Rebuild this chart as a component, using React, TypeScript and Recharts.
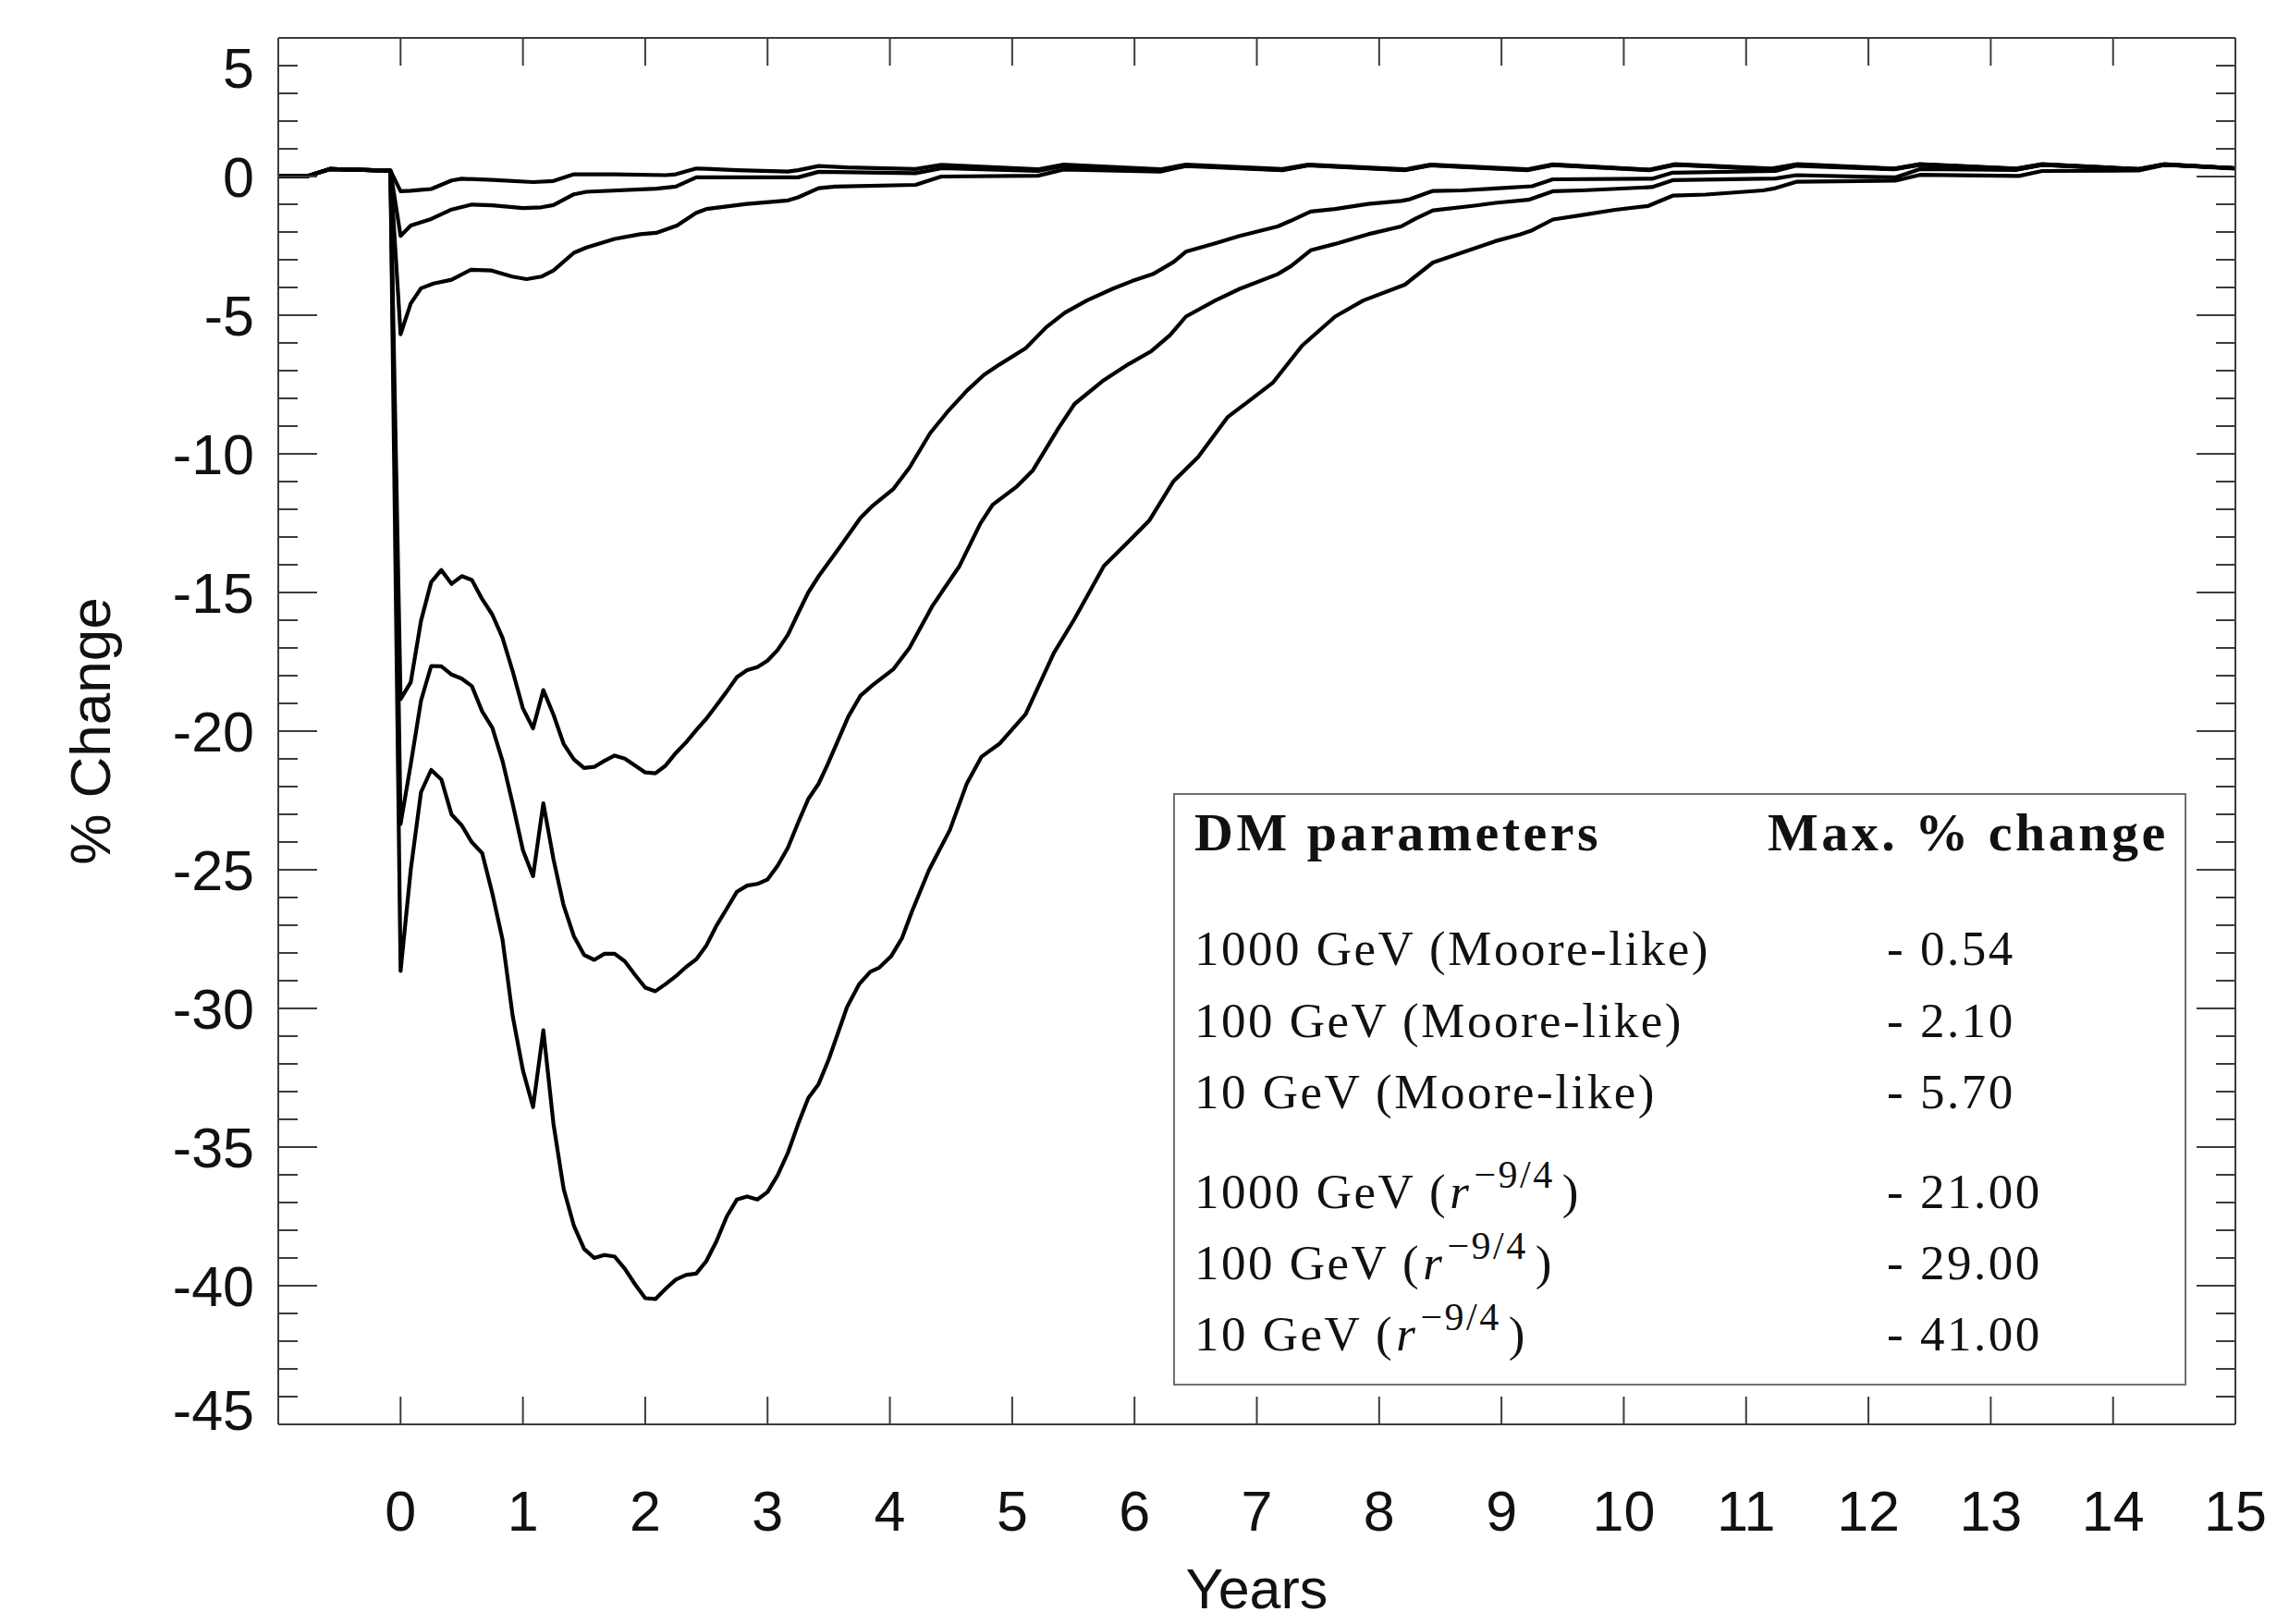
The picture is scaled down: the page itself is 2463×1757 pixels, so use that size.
import React from "react";
import { Line, LineChart, XAxis, YAxis } from "recharts";

// years before the outburst are common to every run
const PRE: [number, number][] = [
  [-1, 0.02], [-0.76, 0.02], [-0.58, 0.27], [-0.083, 0.21],
];

// 1000 GeV (Moore-like)
const SERIES_A: [number, number][] = [
  [0, -0.53], [0.083, -0.51], [0.167, -0.48], [0.25, -0.45], [0.417, -0.14], [0.5, -0.08],
  [0.75, -0.12], [1.083, -0.2], [1.25, -0.16], [1.417, 0.08], [1.75, 0.08], [2.167, 0.05],
  [2.25, 0.08], [2.417, 0.29], [2.5, 0.28], [2.75, 0.23], [3.167, 0.18], [3.25, 0.23],
  [3.417, 0.38], [3.65, 0.33], [4.21, 0.27], [4.42, 0.42], [5.21, 0.26], [5.42, 0.43],
  [6.21, 0.26], [6.42, 0.43], [7.21, 0.27], [7.42, 0.43], [8.21, 0.26], [8.42, 0.43],
  [9.21, 0.26], [9.42, 0.44], [10.21, 0.25], [10.42, 0.45], [11.21, 0.29], [11.42, 0.45],
  [12.21, 0.29], [12.42, 0.45], [13.21, 0.29], [13.42, 0.45], [14.21, 0.27], [14.42, 0.45],
  [15, 0.3],
];

// 100 GeV (Moore-like)
const SERIES_B: [number, number][] = [
  [0, -2.14], [0.083, -1.77], [0.25, -1.53], [0.417, -1.19], [0.583, -1.01], [0.75, -1.04],
  [1.0, -1.14], [1.15, -1.11], [1.25, -1.03], [1.417, -0.64], [1.52, -0.55], [2.09, -0.44],
  [2.25, -0.36], [2.417, -0.03], [3.25, -0.03], [3.417, 0.17], [4.21, 0.12], [4.42, 0.3],
  [5.21, 0.2], [5.42, 0.38], [6.21, 0.23], [6.42, 0.4], [7.21, 0.24], [7.42, 0.41],
  [8.21, 0.24], [8.42, 0.41], [9.21, 0.24], [9.42, 0.42], [10.21, 0.24], [10.42, 0.43],
  [11.21, 0.27], [11.42, 0.43], [12.21, 0.27], [12.42, 0.44], [13.21, 0.28], [13.42, 0.44],
  [14.21, 0.27], [14.42, 0.44], [15, 0.3],
];

// 10 GeV (Moore-like)
const SERIES_C: [number, number][] = [
  [0, -5.69], [0.083, -4.58], [0.167, -4.03], [0.27, -3.86], [0.417, -3.72], [0.575, -3.36],
  [0.744, -3.39], [0.913, -3.61], [1.03, -3.7], [1.15, -3.61], [1.25, -3.39], [1.417, -2.75],
  [1.52, -2.56], [1.75, -2.25], [1.96, -2.08], [2.09, -2.03], [2.26, -1.77], [2.417, -1.31],
  [2.5, -1.17], [2.83, -0.99], [3.167, -0.86], [3.25, -0.75], [3.417, -0.42], [3.55, -0.36],
  [4.21, -0.3], [4.42, 0.0], [5.21, 0.03], [5.42, 0.25], [6.21, 0.18], [6.42, 0.38],
  [7.21, 0.23], [7.42, 0.4], [8.21, 0.23], [8.42, 0.4], [9.21, 0.23], [9.42, 0.41],
  [10.21, 0.23], [10.42, 0.42], [11.21, 0.26], [11.42, 0.42], [12.21, 0.27], [12.42, 0.43],
  [13.21, 0.27], [13.42, 0.43], [14.21, 0.26], [14.42, 0.43], [15, 0.29],
];

// 1000 GeV (r^-9/4)
const SERIES_D: [number, number][] = [
  [0, -18.85], [0.083, -18.24], [0.167, -16.02], [0.25, -14.63], [0.333, -14.19], [0.417, -14.69],
  [0.5, -14.41], [0.583, -14.55], [0.667, -15.24], [0.75, -15.8], [0.833, -16.63], [0.917, -17.85],
  [1.0, -19.18], [1.083, -19.9], [1.167, -18.52], [1.25, -19.41], [1.333, -20.46], [1.417, -21.02],
  [1.5, -21.33], [1.583, -21.29], [1.667, -21.07], [1.75, -20.88], [1.833, -20.99], [1.917, -21.24],
  [2.0, -21.49], [2.083, -21.52], [2.167, -21.24], [2.25, -20.79], [2.333, -20.41], [2.417, -19.96],
  [2.5, -19.55], [2.583, -19.07], [2.667, -18.57], [2.75, -18.05], [2.833, -17.8], [2.917, -17.69],
  [3.0, -17.46], [3.083, -17.07], [3.167, -16.52], [3.25, -15.75], [3.333, -15.0], [3.42, -14.4],
  [3.59, -13.37], [3.76, -12.31], [3.86, -11.87], [4.03, -11.26], [4.16, -10.5], [4.33, -9.25],
  [4.47, -8.49], [4.63, -7.72], [4.77, -7.15], [4.9, -6.77], [5.11, -6.19], [5.28, -5.43],
  [5.43, -4.91], [5.61, -4.47], [5.82, -4.05], [5.98, -3.77], [6.15, -3.52], [6.32, -3.08],
  [6.42, -2.71], [6.66, -2.41], [6.86, -2.14], [7.17, -1.8], [7.27, -1.61], [7.44, -1.26],
  [7.64, -1.17], [7.91, -0.99], [8.18, -0.88], [8.25, -0.82], [8.44, -0.52], [8.68, -0.5],
  [8.95, -0.43], [9.25, -0.35], [9.42, -0.1], [10.23, -0.08], [10.4, 0.14], [11.24, 0.2],
  [11.41, 0.39], [12.21, 0.26], [12.42, 0.42], [13.21, 0.25], [13.42, 0.42], [14.21, 0.25],
  [14.42, 0.43], [15, 0.3],
];

// 100 GeV (r^-9/4)
const SERIES_E: [number, number][] = [
  [0, -23.35], [0.083, -21.2], [0.167, -18.9], [0.25, -17.65], [0.333, -17.66], [0.417, -17.96],
  [0.5, -18.11], [0.583, -18.38], [0.667, -19.29], [0.75, -19.88], [0.833, -21.07], [0.917, -22.63],
  [1.0, -24.29], [1.083, -25.23], [1.167, -22.6], [1.25, -24.62], [1.333, -26.29], [1.417, -27.4],
  [1.5, -28.07], [1.583, -28.25], [1.667, -28.03], [1.75, -28.03], [1.833, -28.3], [1.917, -28.79],
  [2.0, -29.25], [2.083, -29.38], [2.167, -29.12], [2.25, -28.84], [2.333, -28.51], [2.417, -28.23],
  [2.5, -27.73], [2.583, -27.01], [2.667, -26.4], [2.75, -25.79], [2.833, -25.57], [2.917, -25.51],
  [3.0, -25.35], [3.083, -24.85], [3.167, -24.2], [3.25, -23.3], [3.333, -22.45], [3.417, -21.9],
  [3.49, -21.21], [3.66, -19.48], [3.76, -18.72], [3.86, -18.34], [4.03, -17.76], [4.16, -17.0],
  [4.35, -15.47], [4.57, -14.04], [4.74, -12.51], [4.84, -11.84], [5.04, -11.17], [5.17, -10.59],
  [5.38, -9.06], [5.51, -8.2], [5.75, -7.34], [5.95, -6.77], [6.14, -6.29], [6.29, -5.72],
  [6.42, -5.05], [6.66, -4.47], [6.86, -4.05], [7.17, -3.52], [7.28, -3.23], [7.44, -2.66],
  [7.64, -2.43], [7.91, -2.08], [8.18, -1.8], [8.3, -1.51], [8.44, -1.22], [8.78, -1.05],
  [8.95, -0.95], [9.22, -0.84], [9.42, -0.53], [9.66, -0.5], [10.23, -0.38], [10.4, -0.13],
  [11.24, -0.07], [11.41, 0.05], [12.22, -0.03], [12.42, 0.27], [13.21, 0.24], [13.42, 0.42],
  [14.21, 0.25], [14.42, 0.43], [15, 0.3],
];

// 10 GeV (r^-9/4)
const SERIES_F: [number, number][] = [
  [0, -28.65], [0.083, -25.0], [0.167, -22.2], [0.25, -21.4], [0.333, -21.74], [0.417, -23.01],
  [0.5, -23.4], [0.583, -24.01], [0.667, -24.4], [0.75, -25.85], [0.833, -27.51], [0.917, -30.29],
  [1.0, -32.23], [1.083, -33.56], [1.167, -30.79], [1.25, -34.17], [1.333, -36.51], [1.417, -37.84],
  [1.5, -38.67], [1.583, -39.0], [1.667, -38.89], [1.75, -38.95], [1.833, -39.39], [1.917, -39.95],
  [2.0, -40.45], [2.083, -40.48], [2.167, -40.11], [2.25, -39.78], [2.333, -39.61], [2.417, -39.56],
  [2.5, -39.11], [2.583, -38.39], [2.667, -37.5], [2.75, -36.89], [2.833, -36.78], [2.917, -36.89],
  [3.0, -36.62], [3.083, -36.01], [3.167, -35.2], [3.25, -34.17], [3.333, -33.23], [3.417, -32.73],
  [3.5, -31.84], [3.65, -29.95], [3.75, -29.12], [3.84, -28.68], [3.91, -28.54], [4.01, -28.12],
  [4.1, -27.46], [4.18, -26.51], [4.32, -25.01], [4.49, -23.57], [4.63, -21.88], [4.75, -20.92],
  [4.9, -20.44], [5.11, -19.39], [5.34, -17.19], [5.51, -15.95], [5.75, -14.04], [5.95, -13.17],
  [6.12, -12.41], [6.32, -10.98], [6.52, -10.12], [6.76, -8.68], [6.96, -8.01], [7.13, -7.44],
  [7.37, -6.1], [7.64, -5.05], [7.87, -4.47], [8.21, -3.9], [8.44, -3.1], [8.85, -2.48],
  [8.95, -2.33], [9.15, -2.09], [9.25, -1.94], [9.42, -1.55], [9.66, -1.39], [9.93, -1.2],
  [10.2, -1.06], [10.4, -0.69], [10.67, -0.65], [11.14, -0.5], [11.24, -0.42], [11.41, -0.19],
  [12.22, -0.15], [12.42, 0.06], [13.23, 0.02], [13.42, 0.2], [14.21, 0.22], [14.42, 0.42],
  [15, 0.3],
];

const X_TICKS = [0, 1, 2, 3, 4, 5, 6, 7, 8, 9, 10, 11, 12, 13, 14, 15];
const Y_LABELS = [5, 0, -5, -10, -15, -20, -25, -30, -35, -40, -45];

const MASSES = ["1000 GeV", "100 GeV", "10 GeV", "1000 GeV", "100 GeV", "10 GeV"];
const PROFILES = ["moore", "moore", "moore", "power", "power", "power"];
const MAX_CHANGE = ["- 0.54", "- 2.10", "- 5.70", "- 21.00", "- 29.00", "- 41.00"];

const W = 2463;
const H = 1757;
const PLOT_TOP = 41;
const PLOT_BOTTOM = 1541;
const AXIS = "#3c3c3c";
const SANS = "'Liberation Sans', Arial, Helvetica, sans-serif";
const SERIF = "'Liberation Serif', 'Times New Roman', serif";

// minor ticks every unit between the labelled ones
const Y_TICKS: number[] = [];
for (let v = 5; v >= -45; v--) Y_TICKS.push(v);

const toPoints = (pts: [number, number][]) =>
  [...PRE, ...pts].map(([x, y]) => ({ x, y }));

const SERIES = [SERIES_A, SERIES_B, SERIES_C, SERIES_D, SERIES_E, SERIES_F].map(toPoints);

function BottomTick(props: any) {
  const { x, y, payload } = props;
  return (
    <g>
      <line x1={x} x2={x} y1={y} y2={y - 30} stroke={AXIS} strokeWidth={2} />
      <text x={x} y={y + 115} textAnchor="middle" fontFamily={SANS} fontSize={61} fill="#111">
        {payload.value}
      </text>
    </g>
  );
}

function TopTick(props: any) {
  const { x, y } = props;
  return <line x1={x} x2={x} y1={y} y2={y + 30} stroke={AXIS} strokeWidth={2} />;
}

function LeftTick(props: any) {
  const { x, y, payload } = props;
  const v = payload.value;
  const major = v % 5 === 0;
  const cy = Math.min(Math.max(y, PLOT_TOP + 32), PLOT_BOTTOM - 16);
  return (
    <g>
      <line x1={x} x2={x + (major ? 42 : 21)} y1={y} y2={y} stroke={AXIS} strokeWidth={2} />
      {Y_LABELS.includes(v) && (
        <text x={x - 26} y={cy + 22} textAnchor="end" fontFamily={SANS} fontSize={61} fill="#111">
          {v}
        </text>
      )}
    </g>
  );
}

function RightTick(props: any) {
  const { x, y, payload } = props;
  const major = payload.value % 5 === 0;
  return <line x1={x} x2={x - (major ? 42 : 21)} y1={y} y2={y} stroke={AXIS} strokeWidth={2} />;
}

function Legend() {
  const rowY = [1044, 1122, 1199, 1307, 1384, 1461];
  const rowStyle = { letterSpacing: 2.5 };
  const headStyle = { letterSpacing: 3.5 };
  return (
    <svg width={W} height={H} style={{ position: "absolute", left: 0, top: 0, pointerEvents: "none" }}>
      <rect x={1270} y={859} width={1094} height={639} fill="#fff" stroke="#6e6e6e" strokeWidth={2} />
      <text x={1292} y={920} fontFamily={SERIF} fontWeight="bold" fontSize={58} fill="#111" style={headStyle}>
        DM parameters
      </text>
      <text x={1912} y={920} fontFamily={SERIF} fontWeight="bold" fontSize={58} fill="#111" style={headStyle}>
        Max. % change
      </text>
      {MASSES.map((m, i) => (
        <g key={i} fontFamily={SERIF} fontSize={53} fill="#111">
          {PROFILES[i] === "moore" ? (
            <text x={1292} y={rowY[i]} style={rowStyle}>{`${m} (Moore-like)`}</text>
          ) : (
            <text x={1292} y={rowY[i]} style={rowStyle}>
              {`${m} (`}
              <tspan fontStyle="italic" dx={2}>r</tspan>
              <tspan fontSize={42} dy={-22} dx={3}>−9/4</tspan>
              <tspan dy={22} dx={8}>)</tspan>
            </text>
          )}
          <text x={2041} y={rowY[i]} style={rowStyle}>{MAX_CHANGE[i]}</text>
        </g>
      ))}
    </svg>
  );
}

export default function App() {
  return (
    <div style={{ position: "absolute", left: 0, top: 0, width: W, height: H, background: "#fff" }}>
      <LineChart width={W} height={H} margin={{ top: 0, right: 0, bottom: 0, left: 0 }}>
        <XAxis
          xAxisId="b"
          type="number"
          dataKey="x"
          domain={[-1, 15]}
          allowDataOverflow
          ticks={X_TICKS}
          interval={0}
          height={H - PLOT_BOTTOM}
          axisLine={{ stroke: AXIS, strokeWidth: 2 }}
          tickLine={false}
          tickSize={0}
          tickMargin={0}
          tick={(p: any) => <BottomTick {...p} />}
          label={{
            content: () => (
              <text x={1359.5} y={1740} textAnchor="middle" fontFamily={SANS} fontSize={61} fill="#111">
                Years
              </text>
            ),
          }}
        />
        <XAxis
          xAxisId="t"
          orientation="top"
          type="number"
          dataKey="x"
          domain={[-1, 15]}
          allowDataOverflow
          ticks={X_TICKS}
          interval={0}
          height={PLOT_TOP}
          axisLine={{ stroke: AXIS, strokeWidth: 2 }}
          tickLine={false}
          tickSize={0}
          tickMargin={0}
          tick={(p: any) => <TopTick {...p} />}
        />
        <YAxis
          yAxisId="l"
          type="number"
          domain={[-45, 5]}
          allowDataOverflow
          ticks={Y_TICKS}
          interval={0}
          width={301}
          axisLine={{ stroke: AXIS, strokeWidth: 2 }}
          tickLine={false}
          tickSize={0}
          tickMargin={0}
          tick={(p: any) => <LeftTick {...p} />}
          label={{
            content: () => (
              <text
                x={97}
                y={791}
                transform="rotate(-90 97 791)"
                textAnchor="middle"
                dominantBaseline="central"
                fontFamily={SANS}
                fontSize={62}
                fill="#111"
              >
                % Change
              </text>
            ),
          }}
        />
        <YAxis
          yAxisId="r"
          orientation="right"
          type="number"
          domain={[-45, 5]}
          allowDataOverflow
          ticks={Y_TICKS}
          interval={0}
          width={45}
          axisLine={{ stroke: AXIS, strokeWidth: 2 }}
          tickLine={false}
          tickSize={0}
          tickMargin={0}
          tick={(p: any) => <RightTick {...p} />}
        />
        {SERIES.map((pts, i) => (
          <Line
            key={i}
            xAxisId="b"
            yAxisId="l"
            data={pts}
            dataKey="y"
            type="linear"
            stroke="#000"
            strokeWidth={4.2}
            strokeLinejoin="round"
            dot={false}
            activeDot={false}
            isAnimationActive={false}
          />
        ))}
      </LineChart>
      <Legend />
    </div>
  );
}
